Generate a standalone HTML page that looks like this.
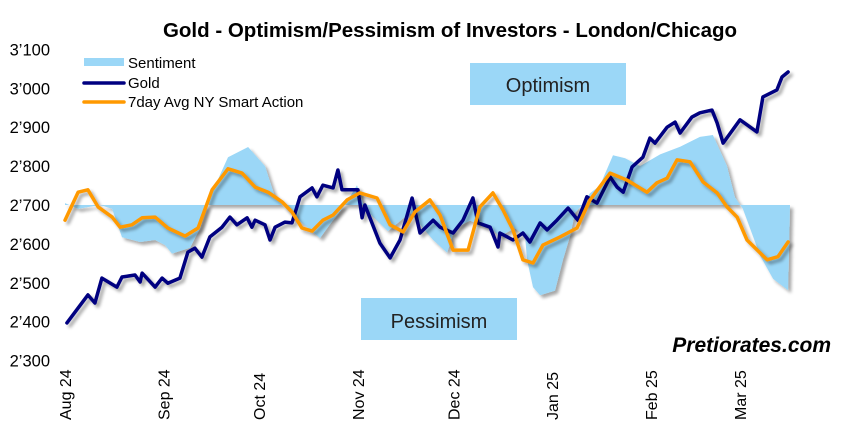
<!DOCTYPE html>
<html><head><meta charset="utf-8">
<style>
body{margin:0;background:#fff;}
svg{display:block;font-family:"Liberation Sans",Arial,sans-serif;}
</style></head>
<body>
<svg id="chart" width="853" height="427" viewBox="0 0 853 427">
<defs>
<filter id="sh" x="-5%" y="-5%" width="110%" height="120%">
<feGaussianBlur in="SourceAlpha" stdDeviation="1.5"/>
<feOffset dx="3" dy="3" result="b"/>
<feComponentTransfer><feFuncA type="linear" slope="0.35"/></feComponentTransfer>
<feMerge><feMergeNode/><feMergeNode in="SourceGraphic"/></feMerge>
</filter>
</defs>
<text x="450" y="37" text-anchor="middle" font-size="20.5" font-weight="bold" fill="#000">Gold - Optimism/Pessimism of Investors - London/Chicago</text>
<g id="yaxis"></g>
<g id="xaxis"></g>
<g id="plot"></g>
<rect x="470" y="63" width="156" height="42" fill="#9bd7f7"/>
<text x="548" y="92" text-anchor="middle" font-size="20" fill="#222">Optimism</text>
<rect x="361" y="298" width="156" height="42" fill="#9bd7f7"/>
<text x="439" y="328" text-anchor="middle" font-size="20" fill="#222">Pessimism</text>
<g>
<rect x="84" y="58" width="40" height="8" fill="#9bd7f7"/>
<text x="128" y="68" font-size="15">Sentiment</text>
<line x1="84" y1="83" x2="124" y2="83" stroke="#000080" stroke-width="3.5" stroke-linecap="round"/>
<text x="128" y="88" font-size="15">Gold</text>
<line x1="84" y1="102" x2="124" y2="102" stroke="#ff9900" stroke-width="3.5" stroke-linecap="round"/>
<text x="128" y="107" font-size="15">7day Avg NY Smart Action</text>
</g>
<text x="831" y="352" text-anchor="end" font-size="21" font-weight="bold" font-style="italic" fill="#000">Pretiorates.com</text>
</svg>
<script>
const yTicks=[2300,2400,2500,2600,2700,2800,2900,3000,3100];
const yTickLabels=["2’300","2’400","2’500","2’600","2’700","2’800","2’900","3’000","3’100"];
const monthLabels=["Aug 24","Sep 24","Oct 24","Nov 24","Dec 24","Jan 25","Feb 25","Mar 25"];
const monthDays=[0,31,61,92,122,153,184,212];
const goldDays=[0.6,7.2,9.4,11.6,16.3,17.9,22,23.6,24.2,28.3,30.5,32.3,36.1,38.6,40.8,43,45.5,49.3,51.8,54,57.2,58.7,59.7,62.8,64.4,66,69.1,71.3,73.8,77.6,79.1,81,84.2,85.7,87,92,93.3,94.2,98.9,102.1,105.2,109,111.5,115.6,117.8,121.9,125,128.1,129.7,133.5,136,136.6,140.7,143.8,146,149.2,151.4,154.5,158,161.1,163.9,167.1,171.2,173.4,175.3,178.1,181.5,183.7,185.3,189.1,191.6,193.2,196.9,199.4,203.2,204.8,206.7,212,217.3,219.2,223.6,225.2,227.1];
const goldValues=[2397,2469,2448,2512,2489,2515,2520,2502,2525,2489,2512,2499,2512,2579,2589,2566,2618,2643,2669,2649,2667,2643,2661,2649,2610,2643,2656,2654,2721,2744,2721,2751,2744,2790,2739,2739,2667,2700,2602,2564,2610,2718,2628,2661,2643,2628,2661,2718,2654,2643,2592,2628,2610,2628,2605,2654,2636,2661,2692,2661,2721,2705,2772,2746,2733,2798,2823,2872,2859,2900,2913,2885,2926,2937,2944,2911,2859,2919,2888,2978,2996,3029,3042];
const smartDays=[0,4.1,7.2,10.4,14.8,17.3,21,24.2,28.3,32.3,37.7,41.8,46.2,51.2,55.6,59.7,63.8,68.2,71.3,74.4,77.6,81,84.2,88.6,92.6,98,102.1,106.2,109.9,114.6,117.8,121.9,126.6,130.3,134.4,137.6,140.7,143.8,147,150.1,155.5,160.8,164.9,171.2,176.5,182.8,185.9,189.1,192.2,196.3,200.4,204.8,207.9,211.1,214.2,220.5,223.9,227.1];
const smartValues=[2661,2733,2739,2695,2669,2643,2649,2667,2669,2641,2620,2641,2739,2793,2782,2746,2733,2708,2682,2641,2633,2661,2674,2713,2731,2718,2649,2631,2682,2713,2674,2584,2584,2695,2731,2687,2636,2559,2551,2597,2618,2641,2713,2782,2764,2733,2757,2769,2816,2811,2759,2731,2695,2669,2610,2559,2567,2605];
const sentDays=[0,4.1,11,14.8,17.9,23.6,28.3,31.4,33.6,39.3,42.4,45.5,51.2,57.5,62.8,66,70.7,80.1,83.2,87.9,91.7,94.2,101.4,108.4,115.6,120,122.5,127.2,133.5,136.6,141.3,144.5,145.1,147,149.2,153.9,156.4,158.6,160.2,162.4,164.9,168,172.1,175.9,180.6,186.9,193.2,199.4,203.5,207.9,210.4,212.9,218.3,222.4,227.1,227.7];
const sentValues=[2705,2690,2700,2690,2617,2605,2610,2597,2575,2590,2640,2720,2823,2849,2800,2720,2680,2615,2650,2700,2751,2690,2633,2680,2610,2577,2640,2660,2640,2620,2640,2620,2560,2489,2468,2480,2559,2620,2680,2700,2730,2750,2828,2820,2800,2830,2850,2875,2880,2800,2720,2690,2570,2510,2481,2700];
const baseline=2700;

const NS="http://www.w3.org/2000/svg";
function X(d){return 65+d*3.184;}
function Y(v){return 205-(v-2700)*0.389;}
function mk(tag,attrs,parent){const e=document.createElementNS(NS,tag);for(const k in attrs)e.setAttribute(k,attrs[k]);parent.appendChild(e);return e;}
const yax=document.getElementById('yaxis');
yTicks.forEach((t,i)=>{
  const tx=mk('text',{x:50,y:Y(t)+6,'text-anchor':'end','font-size':16.5,fill:'#000'},yax);
  
  
  tx.textContent=yTickLabels[i];
});
const xax=document.getElementById('xaxis');
monthLabels.forEach((m,i)=>{
  const x=X(monthDays[i])+6;
  const tx=mk('text',{x:x,y:420,'text-anchor':'start','font-size':16,fill:'#000',transform:`rotate(-90 ${x} 420)`},xax);
  
  
  tx.textContent=m;
});
const plot=document.getElementById('plot');
let d='M'+X(sentDays[0])+','+Y(baseline);
sentDays.forEach((dd,i)=>{d+=' L'+X(dd).toFixed(1)+','+Y(sentValues[i]).toFixed(1);});
d+=' L'+X(sentDays[sentDays.length-1])+','+Y(baseline)+' Z';
const area=mk('path',{d:d,fill:'#9bd7f7',filter:'url(#sh)'},plot);


function line(days,vals,color){
  let p='';days.forEach((dd,i)=>{p+=(i?' L':'M')+X(dd).toFixed(1)+','+Y(vals[i]).toFixed(1);});
  return mk('path',{d:p,fill:'none',stroke:color,'stroke-width':3.5,'stroke-linejoin':'round','stroke-linecap':'round',filter:'url(#sh)'},plot);
}
const gl=line(goldDays,goldValues,'#000080');


const sl=line(smartDays,smartValues,'#ff9900');


</script>
</body></html>
